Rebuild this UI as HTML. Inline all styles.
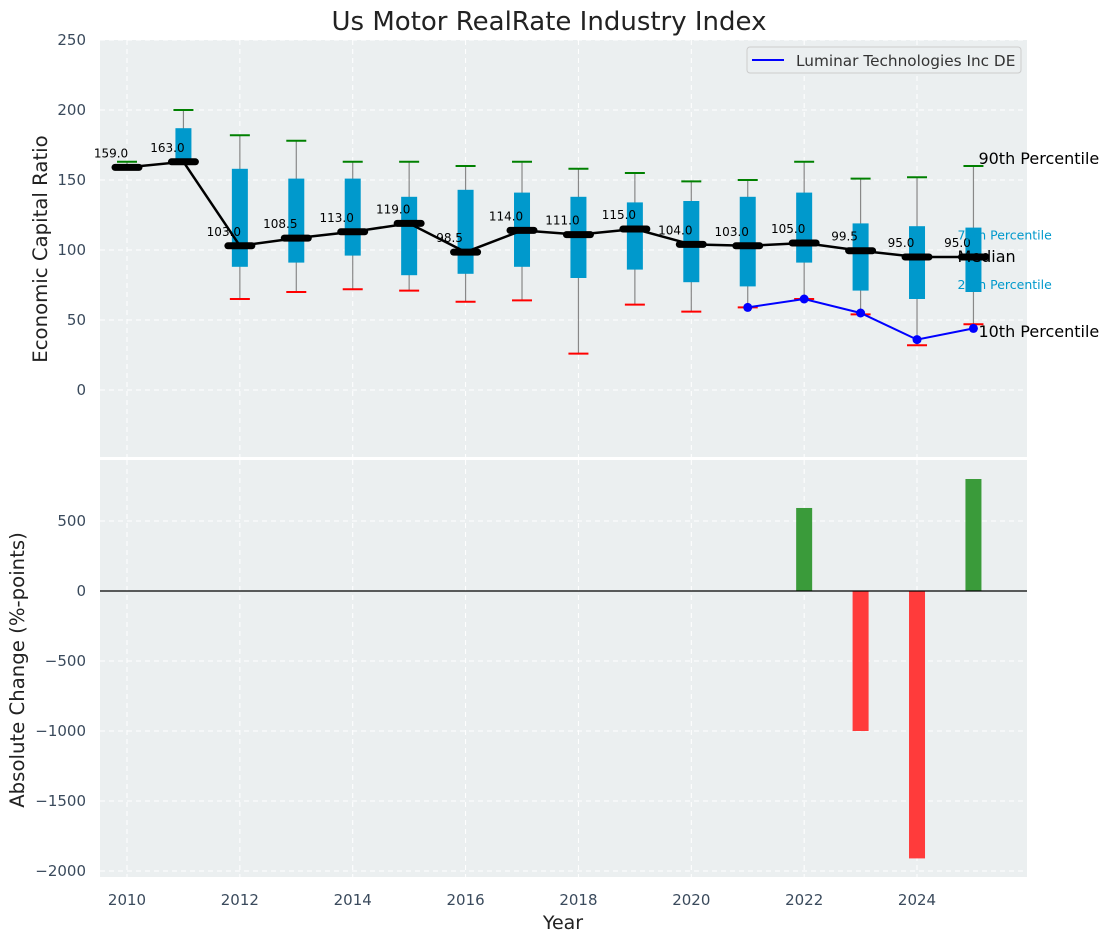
<!DOCTYPE html>
<html><head><meta charset="utf-8"><style>
body{margin:0;background:#fff;}
svg{display:block;font-family:"DejaVu Sans","Liberation Sans",sans-serif;}
</style></head><body>
<svg id="c" width="1114" height="942" xmlns="http://www.w3.org/2000/svg">
<text x="549" y="30" text-anchor="middle" font-size="26" fill="#222">Us Motor RealRate Industry Index</text>
<rect x="100" y="40" width="927" height="417" fill="#ebeff0"/>
<rect x="100" y="460" width="927" height="417" fill="#ebeff0"/>
<g id="topG"></g><g id="botG"></g>
<text x="47" y="249" transform="rotate(-90 47 249)" text-anchor="middle" font-size="19.7" fill="#222">Economic Capital Ratio</text>
<text x="24" y="670" transform="rotate(-90 24 670)" text-anchor="middle" font-size="19.7" fill="#222">Absolute Change (%-points)</text>
<text x="563" y="929" text-anchor="middle" font-size="19" fill="#222">Year</text>
<g>
<rect x="747" y="47" width="274" height="26" rx="3" fill="#ebeff0" stroke="#ccc"/>
<line x1="752" y1="60" x2="784" y2="60" stroke="#0000ff" stroke-width="2"/>
<text x="796" y="66" font-size="15.3" fill="#333">Luminar Technologies Inc DE</text>
</g>
</svg>
<script>
const years=[2010,2011,2012,2013,2014,2015,2016,2017,2018,2019,2020,2021,2022,2023,2024,2025];
const p90=[163,200,182,178,163,163,160,163,158,155,149,150,163,151,152,160];
const p75=[159,187,158,151,151,138,143,141,138,134,135,138,141,119,117,116];
const med=[159,163,103,108.5,113,119,98.5,114,111,115,104,103,105,99.5,95,95];
const p25=[159,161,88,91,96,82,83,88,80,86,77,74,91,71,65,70];
const p10=[159,163,65,70,72,71,63,64,26,61,56,59,65,54,32,47];
const compYears=[2021,2022,2023,2024,2025];
const compVals=[59,65,55,36,44];
const chgYears=[2022,2023,2024,2025];
const chgVals=[593,-1000,-1910,800];
const topTicks=[0,50,100,150,200,250];
const botTicks=[-2000,-1500,-1000,-500,0,500];
const xTicks=[2010,2012,2014,2016,2018,2020,2022,2024];

const NS="http://www.w3.org/2000/svg";
const X=y=>127+(y-2010)*56.43;
const Y=v=>390-v*1.4;
const YB=v=>591-v*0.14;
const topG=document.getElementById('topG'),botG=document.getElementById('botG');
function mk(p,t,a){const e=document.createElementNS(NS,t);for(const k in a)e.setAttribute(k,a[k]);p.appendChild(e);return e;}

topTicks.forEach(t=>{
 const g=mk(topG,'line',{x1:100,x2:1027,y1:Y(t),y2:Y(t),stroke:'#fff','stroke-dasharray':'5,4','stroke-width':1});
 
 
 const l=mk(topG,'text',{x:86,y:Y(t)+5,'text-anchor':'end','font-size':15,fill:'#3a4a5c'});l.textContent=t;
 
 
});
botTicks.forEach(t=>{
 const g=mk(botG,'line',{x1:100,x2:1027,y1:YB(t),y2:YB(t),stroke:'#fff','stroke-dasharray':'5,4'});
 
 
 const l=mk(botG,'text',{x:86,y:YB(t)+5,'text-anchor':'end','font-size':15,fill:'#3a4a5c'});l.textContent=(t<0?'\u2212'+(-t):t);
 
 
});
xTicks.forEach(t=>{
 [[40,457],[460,877]].forEach(r=>{const g=mk(topG,'line',{x1:X(t),x2:X(t),y1:r[0],y2:r[1],stroke:'#fff','stroke-dasharray':'5,4'});
 
 });
 const l=mk(botG,'text',{x:X(t),y:905,'text-anchor':'middle','font-size':15,fill:'#3a4a5c'});l.textContent=t;
 
 
});

years.forEach((yr,i)=>{
 const x=X(yr);
 const w=mk(topG,'line',{x1:x,x2:x,y1:Y(p90[i]),y2:Y(p10[i]),stroke:'#888','stroke-width':1.2});
 
 
 const b=mk(topG,'rect',{x:x-8,y:Y(p75[i]),width:16,height:Math.max(0,Y(p25[i])-Y(p75[i])),fill:'#0099cc'});
 
 
 const c1=mk(topG,'line',{x1:x-10,x2:x+10,y1:Y(p90[i]),y2:Y(p90[i]),stroke:'green','stroke-width':2});
 
 
 const c2=mk(topG,'line',{x1:x-10,x2:x+10,y1:Y(p10[i]),y2:Y(p10[i]),stroke:'red','stroke-width':2});
 
 
});
const ml=mk(topG,'polyline',{points:years.map((y,i)=>X(y)+','+Y(med[i])).join(' '),fill:'none',stroke:'#000','stroke-width':2.5});


years.forEach((yr,i)=>{
 const m=mk(topG,'line',{x1:X(yr)-12,x2:X(yr)+12,y1:Y(med[i]),y2:Y(med[i]),stroke:'#000','stroke-width':7,'stroke-linecap':'round'});
 
 
 const t=mk(topG,'text',{x:X(yr)-16,y:Y(med[i])-10,'text-anchor':'middle','font-size':12,fill:'#000'});
 t.textContent=med[i].toFixed(1);
 
 
});
const cl=mk(topG,'polyline',{points:compYears.map((y,i)=>X(y)+','+Y(compVals[i])).join(' '),fill:'none',stroke:'#0000ff','stroke-width':2});


compYears.forEach((y,i)=>{const d=mk(topG,'circle',{cx:X(y),cy:Y(compVals[i]),r:4.5,fill:'#0000ff'});
 
 });
const last=years.length-1,lx=X(years[last]);
[[p90[last],'90th Percentile',16,'#000',5,-2],[p75[last],'75th Percentile',12.5,'#0099cc',-16,12],[med[last],'Median',16,'#000',-16,5],[p25[last],'25th Percentile',12.5,'#0099cc',-16,-3],[p10[last],'10th Percentile',16,'#000',5,13]].forEach(a=>{
 const t=mk(topG,'text',{x:lx+a[4],y:Y(a[0])+a[5],'font-size':a[2],fill:a[3]});
 t.textContent=a[1];
 
 
});
chgYears.forEach((y,i)=>{
 const v=chgVals[i];
 const r=mk(botG,'rect',{x:X(y)-8,y:Math.min(YB(v),YB(0)),width:16,height:Math.abs(YB(v)-YB(0)),fill:v>=0?'#3a9b3a':'#ff3b3b'});
 
 
});
const z=mk(botG,'line',{x1:100,x2:1027,y1:YB(0),y2:YB(0),stroke:'#000','stroke-width':1.2});


</script>
</body></html>
